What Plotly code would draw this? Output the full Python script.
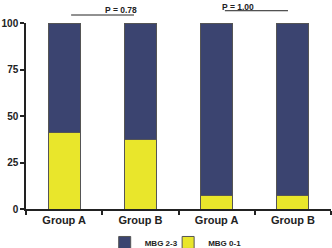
import plotly.graph_objects as go

categories = ["Group A", "Group B", "Group A", "Group B"]
mbg01 = [41, 37.5, 7.5, 7.5]
mbg23 = [59, 62.5, 92.5, 92.5]
y_ticks = [0, 25, 50, 75, 100]
p_labels = ["P = 0.78", "P = 1.00"]

xpos = list(range(len(categories)))
navy = "#3b4470"
yellow = "#e9e62b"
font = "Liberation Sans, Arial, sans-serif"

fig = go.Figure()
fig.add_trace(go.Bar(x=xpos, y=mbg01, name="<b>MBG 0-1</b>", legend="legend2",
                     marker=dict(color=yellow, line=dict(color="#555", width=1)), width=0.42))
fig.add_trace(go.Bar(x=xpos, y=mbg23, name="<b>MBG 2-3</b>", legend="legend",
                     marker=dict(color=navy, line=dict(color="#555", width=1)), width=0.42))

leg_common = dict(orientation="h", y=-0.18, yanchor="middle", xanchor="left",
                  font=dict(size=8, family=font, color="#222"), itemwidth=30,
                  bgcolor="rgba(0,0,0,0)")

fig.update_layout(
    barmode="stack",
    width=332, height=248,
    margin=dict(l=26, r=1, t=23, b=39, autoexpand=False),
    plot_bgcolor="white", paper_bgcolor="white",
    font=dict(family=font, color="#222"),
    showlegend=True,
    legend=dict(x=0.258, **leg_common),
    legend2=dict(x=0.466, **leg_common),
    xaxis=dict(range=[-0.5, 3.5], tickvals=xpos, ticktext=["<b>%s</b>" % c for c in categories],
               ticks="", showline=True, linecolor="#222", linewidth=1.5, showgrid=False, zeroline=False,
               automargin=False,
               tickfont=dict(size=11, family=font, color="#222"),
               minor=dict(tick0=0.5, dtick=1, ticks="outside", ticklen=4, tickcolor="#222", tickwidth=1.5)),
    yaxis=dict(range=[0, 100], tickvals=y_ticks, ticktext=["<b>%d</b>" % v for v in y_ticks],
               ticks="outside", ticklen=4, tickcolor="#222", tickwidth=1.5, automargin=False,
               showline=True, linecolor="#222", linewidth=1.5, showgrid=False, zeroline=False,
               tickfont=dict(size=10, family=font, color="#222")),
)

brackets = [(0.148, 0.354, 1.043), (0.652, 0.859, 1.066)]
for (x0, x1, yl), lab in zip(brackets, p_labels):
    fig.add_shape(type="line", xref="paper", yref="paper", x0=x0, x1=x1, y0=yl, y1=yl,
                  line=dict(color="#222", width=1))
    ty = min(yl + 0.062, 1.121)
    fig.add_annotation(xref="paper", yref="paper", x=(x0 + x1) / 2, y=ty, yanchor="top",
                       text="<b>%s</b>" % lab, showarrow=False, font=dict(size=8.5, family=font, color="#222"))

fig.write_html("out.html", config={"displayModeBar": False},
               post_script="document.body.style.margin='0';document.body.style.overflow='hidden';")
